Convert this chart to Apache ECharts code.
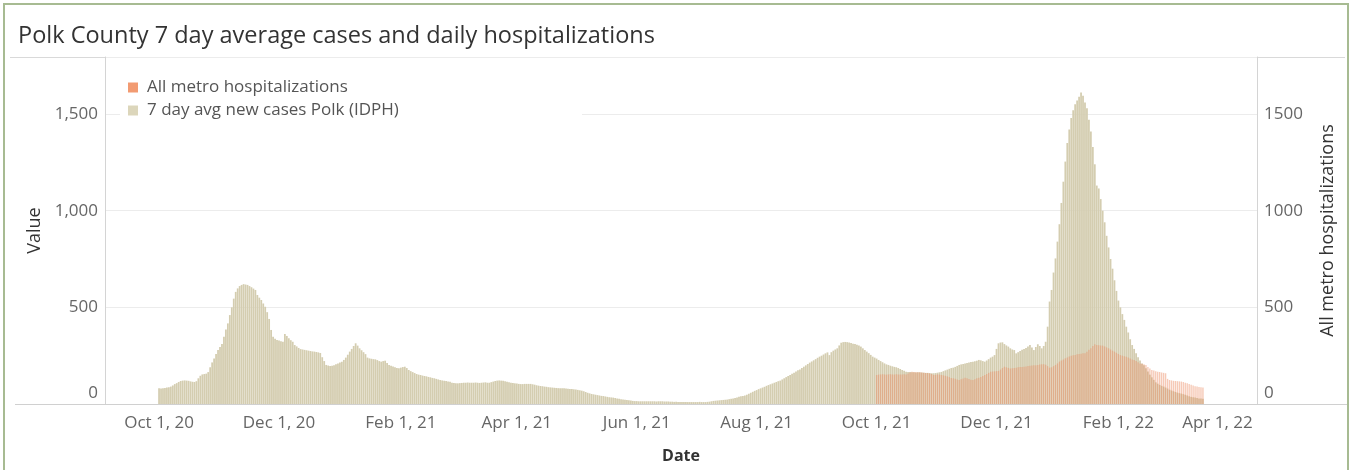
<!DOCTYPE html>
<html>
<head>
<meta charset="utf-8">
<title>Polk County 7 day average cases and daily hospitalizations</title>
<script src="https://cdn.jsdelivr.net/npm/echarts@6/dist/echarts.min.js"></script>
<style>
  html, body { margin: 0; padding: 0; background: #fff; }
  #chart { width: 1351px; height: 470px; }
</style>
</head>
<body>
<div id="chart"></div>
<script>
// days shown on the date axis
const axisStart = '2020-09-04'
const axisEnd = '2022-04-12'

// 7 day avg new cases Polk (IDPH), one value per day from casesStart
const casesStart = '2020-10-01'
const cases = [
  81, 80, 82, 83, 85, 87, 90, 96, 103, 108,
  114, 119, 121, 122, 121, 120, 117, 115, 114, 118,
  133, 146, 153, 155, 157, 165, 190, 215, 236, 258,
  279, 295, 310, 348, 385, 417, 460, 500, 545, 580,
  598, 610, 616, 620, 618, 616, 610, 604, 597, 590,
  564, 550, 538, 520, 503, 475, 440, 383, 348, 338,
  331, 328, 325, 322, 362, 352, 340, 330, 322, 305,
  298, 290, 284, 282, 280, 278, 276, 274, 272, 271,
  269, 267, 264, 242, 222, 202, 199, 197, 198, 201,
  205, 210, 215, 219, 228, 240, 255, 271, 285, 300,
  314, 302, 288, 278, 268, 258, 240, 236, 234, 232,
  231, 227, 222, 219, 222, 224, 212, 202, 198, 194,
  190, 186, 185, 188, 191, 193, 186, 176, 170, 165,
  160, 155, 152, 150, 147, 145, 143, 140, 138, 135,
  133, 130, 127, 124, 122, 120, 119, 117, 115, 110,
  108, 107, 107, 108, 109, 110, 110, 111, 110, 110,
  110, 111, 110, 109, 110, 111, 112, 110, 110, 113,
  116, 119, 121, 122, 121, 120, 118, 115, 112, 110,
  109, 107, 106, 104, 103, 103, 104, 104, 104, 104,
  102, 100, 97, 95, 93, 92, 90, 89, 87, 86,
  85, 84, 83, 82, 82, 81, 81, 80, 79, 78,
  77, 76, 75, 73, 71, 69, 66, 62, 58, 55,
  52, 50, 48, 46, 44, 42, 41, 39, 37, 35,
  34, 33, 31, 29, 27, 25, 23, 22, 21, 20,
  18, 16, 15, 15, 14, 14, 14, 14, 14, 14,
  14, 14, 14, 13, 14, 14, 14, 13, 13, 13,
  12, 12, 11, 11, 10, 10, 10, 10, 10, 10,
  10, 10, 10, 10, 10, 11, 10, 10, 10, 11,
  12, 14, 16, 17, 18, 19, 20, 21, 22, 23,
  25, 27, 28, 31, 34, 37, 40, 41, 44, 48,
  53, 58, 63, 68, 72, 77, 81, 85, 89, 94,
  98, 102, 106, 110, 114, 118, 121, 127, 133, 139,
  145, 150, 156, 162, 168, 174, 179, 186, 193, 200,
  207, 214, 220, 226, 232, 239, 245, 250, 256, 262,
  267, 253, 268, 276, 282, 288, 303, 317, 320, 321,
  320, 318, 315, 312, 310, 306, 302, 297, 288, 279,
  271, 263, 254, 245, 240, 235, 228, 222, 216, 210,
  205, 202, 198, 195, 192, 190, 186, 181, 176, 172,
  167, 166, 165, 164, 164, 163, 164, 164, 163, 162,
  161, 161, 160, 159, 159, 160, 162, 164, 166, 170,
  174, 178, 182, 186, 188, 192, 197, 202, 205, 207,
  210, 212, 215, 217, 219, 221, 224, 228, 226, 222,
  219, 225, 232, 240, 245, 253, 285, 314, 318, 319,
  310, 303, 297, 288, 282, 279, 262, 268, 274, 280,
  285, 290, 298, 305, 292, 279, 295, 309, 300, 288,
  300, 322, 400, 530, 590, 680, 753, 840, 930, 1040,
  1150, 1254, 1350, 1420, 1480, 1520, 1550, 1570, 1590, 1612,
  1595, 1560, 1530, 1470, 1410, 1330, 1240, 1130, 1115, 1060,
  1000, 940, 870, 810, 750, 700, 640, 585, 535, 500,
  465, 435, 400, 370, 335, 305, 285, 262, 242, 225,
  210, 200, 185, 168, 152, 138, 125, 112, 105, 99,
  94, 90, 85, 80, 74, 70, 66, 62, 59, 56,
  54, 51, 48, 44, 40, 37, 35, 33, 31, 29,
  28, 27
]

// All metro hospitalizations, one value per day from hospStart
const hospStart = '2021-10-01'
const hosp = [
  150, 152, 153, 154, 153,
  152, 153, 154, 153, 152, 154, 153, 152, 153, 154,
  153, 158, 163, 167, 166, 165, 164, 164, 163, 162,
  161, 160, 158, 155, 150, 151, 153, 152, 150, 148,
  146, 143, 139, 135, 133, 130, 127, 124, 128, 132,
  136, 133, 129, 126, 124, 128, 133, 136, 140, 145,
  150, 155, 161, 167, 168, 169, 170, 171, 178, 186,
  193, 190, 187, 184, 185, 186, 188, 190, 191, 192,
  193, 194, 196, 198, 199, 200, 201, 202, 204, 205,
  205, 203, 196, 188, 190, 196, 202, 210, 219, 225,
  230, 236, 241, 246, 250, 252, 254, 257, 258, 260,
  262, 262, 270, 280, 288, 300, 309, 305, 304, 303,
  302, 298, 293, 288, 282, 276, 271, 265, 259, 253,
  250, 247, 245, 240, 235, 230, 228, 222, 216, 210,
  208, 205, 202, 192, 184, 176, 173, 170, 167, 165,
  163, 161, 159, 130, 124, 122, 120, 119, 118, 117,
  116, 114, 110, 107, 104, 100, 96, 92, 90, 88,
  86, 85
]

// labelled dates on the x axis: the 1st of these months
const labelMonths = [10, 12, 2, 4, 6, 8]
const yTicks = [0, 500, 1000, 1500]

const monthNames = ['Jan', 'Feb', 'Mar', 'Apr', 'May', 'Jun', 'Jul', 'Aug', 'Sep', 'Oct', 'Nov', 'Dec']
const fontFamily = '"Open Sans", "Noto Sans", sans-serif'
const DAY = 86400000

function toUTC (s) {
  const p = s.split('-')
  return Date.UTC(+p[0], +p[1] - 1, +p[2])
}
function dayDiff (a, b) {
  return Math.round((toUTC(b) - toUTC(a)) / DAY)
}

// build one category per day
let categories = []
for (let t = toUTC(axisStart); t <= toUTC(axisEnd); t += DAY) {
  categories.push(new Date(t).toISOString().slice(0, 10))
}

function alignToAxis (start, values) {
  const out = new Array(categories.length).fill(null)
  const offset = dayDiff(axisStart, start)
  for (let i = 0; i < values.length; i++) {
    out[offset + i] = values[i]
  }
  return out
}

const isLabelDay = (value) => {
  const p = value.split('-')
  return p[2] === '01' && labelMonths.indexOf(+p[1]) > -1
}

const formatDate = (value) => {
  const p = value.split('-')
  const text = `${monthNames[+p[1] - 1]} ${+p[2]}, ${p[0].slice(2)}`
  // last label is pulled inside the plot, as in the original
  if (value === '2022-04-01') return `{end|${text}}`
  return text
}

const withComma = (v) => String(v).replace(/\B(?=(\d{3})+(?!\d))/g, ',')

const labelStyle = { color: '#666', fontSize: 17, fontFamily: fontFamily }
const nameStyle = { color: '#333', fontSize: 18, fontFamily: fontFamily }
const yMax = 1795

const myChart = echarts.init(document.getElementById('chart'))
let option = {
  animation: false,
  textStyle: { fontFamily: fontFamily },
  title: {
    text: 'Polk County 7 day average cases and daily hospitalizations',
    left: 13,
    top: 19,
    textStyle: { color: '#333', fontSize: 23.5, fontWeight: 'normal', fontFamily: fontFamily }
  },
  legend: {
    orient: 'vertical',
    left: 123,
    top: 74,
    itemWidth: 10,
    itemHeight: 10,
    itemGap: 6,
    icon: 'rect',
    z: 5,
    textStyle: { color: '#555', fontSize: 17, fontFamily: fontFamily, padding: [0, 0, 0, 4] },
    data: [
      { name: 'All metro hospitalizations', itemStyle: { color: '#f29b72', opacity: 1 } },
      { name: '7 day avg new cases Polk (IDPH)', itemStyle: { color: '#dcd6bb', opacity: 1 } }
    ]
  },
  grid: {
    left: 105,
    right: 94,
    top: 57,
    bottom: 66
  },
  graphic: [
    // outer border of the dashboard panel
    { type: 'rect', shape: { x: 4, y: 4, width: 1344, height: 480 }, style: { fill: 'none', stroke: '#a7bb92', lineWidth: 2 }, silent: true },
    // separator under the title
    { type: 'line', shape: { x1: 10, y1: 57.5, x2: 1345, y2: 57.5 }, style: { stroke: '#d9d9d9', lineWidth: 1 }, silent: true },
    // x axis header line across the whole width
    { type: 'line', shape: { x1: 15, y1: 404.5, x2: 1347, y2: 404.5 }, style: { stroke: '#d0d0d0', lineWidth: 1 }, silent: true, z: 10 },
    // legend background hides the grid line
    { type: 'rect', shape: { x: 120, y: 68, width: 462, height: 58 }, style: { fill: '#fff' }, silent: true, z: 3 }
  ],
  xAxis: [
    {
      type: 'category',
      data: categories,
      name: 'Date',
      nameLocation: 'middle',
      nameGap: 44,
      nameTextStyle: { color: '#333', fontSize: 16, fontWeight: 'bold', fontFamily: fontFamily },
      axisLine: { show: false },
      axisTick: { show: false },
      axisLabel: {
        interval: (index, value) => isLabelDay(value),
        formatter: formatDate,
        margin: 11,
        color: '#666',
        fontSize: 17,
        fontFamily: fontFamily,
        rich: {
          end: Object.assign({}, labelStyle, { padding: [0, 34, 0, 0] })
        }
      },
      splitLine: { show: false }
    },
    {
      // same days, used by the hospitalization bars so they can be narrower
      type: 'category',
      data: categories,
      show: false
    }
  ],
  yAxis: [
    {
      type: 'value',
      name: 'Value',
      nameLocation: 'middle',
      nameGap: 58,
      nameTextStyle: nameStyle,
      min: 0,
      max: yMax,
      interval: 500,
      axisLine: { show: true, lineStyle: { color: '#d4d4d4' } },
      axisTick: { show: false },
      axisLabel: Object.assign({}, labelStyle, {
        margin: 7,
        showMaxLabel: false,
        formatter: (v) => yTicks.indexOf(v) < 0 ? '' : (v === 0 ? '{z|0}' : withComma(v)),
        rich: { z: Object.assign({}, labelStyle, { padding: [0, 0, 22, 0] }) }
      }),
      splitLine: { show: true, lineStyle: { color: '#ececec' } }
    },
    {
      type: 'value',
      name: 'All metro hospitalizations',
      nameLocation: 'middle',
      nameGap: 62,
      nameTextStyle: nameStyle,
      min: 0,
      max: yMax,
      interval: 500,
      axisLine: { show: true, lineStyle: { color: '#d4d4d4' } },
      axisTick: { show: false },
      axisLabel: Object.assign({}, labelStyle, {
        margin: 7,
        showMaxLabel: false,
        formatter: (v) => yTicks.indexOf(v) < 0 ? '' : (v === 0 ? '{z|0}' : String(v)),
        rich: { z: Object.assign({}, labelStyle, { padding: [0, 0, 22, 0] }) }
      }),
      splitLine: { show: false }
    }
  ],
  series: [
    {
      name: '7 day avg new cases Polk (IDPH)',
      type: 'bar',
      xAxisIndex: 0,
      yAxisIndex: 0,
      data: alignToAxis(casesStart, cases),
      barWidth: '90%',
      itemStyle: { color: '#d4cdb0' }
    },
    {
      name: 'All metro hospitalizations',
      type: 'bar',
      xAxisIndex: 1,
      yAxisIndex: 1,
      data: alignToAxis(hospStart, hosp),
      barWidth: '70%',
      itemStyle: { color: 'rgba(235, 140, 100, 0.47)' }
    }
  ]
}
myChart.setOption(option)
</script>
</body>
</html>
